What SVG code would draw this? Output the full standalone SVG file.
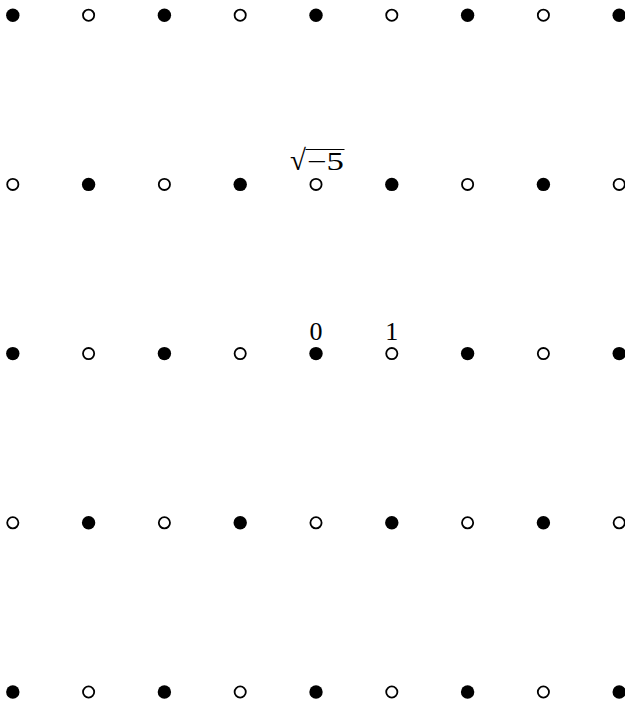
<svg xmlns="http://www.w3.org/2000/svg" width="625" height="704" viewBox="0 0 625 704">
<style>
.f{fill:#000}
.o{fill:#fff;stroke:#000;stroke-width:1.8}
text{font-family:"Liberation Serif","Times New Roman",serif;fill:#000}
.d{font-size:26px}
</style>
<defs>
<circle id="F" r="6.7" class="f"/>
<circle id="O" r="5.6" class="o"/>
</defs>
<rect width="625" height="704" fill="#fff"/>
<g id="nodes">
<g id="r0">
<use href="#F" x="12.8" y="15.2"/><use href="#O" x="88.6" y="15.2"/><use href="#F" x="164.4" y="15.2"/><use href="#O" x="240.2" y="15.2"/><use href="#F" x="316" y="15.2"/><use href="#O" x="391.8" y="15.2"/><use href="#F" x="467.6" y="15.2"/><use href="#O" x="543.4" y="15.2"/><use href="#F" x="619.2" y="15.2"/>
</g>
<g id="r1">
<use href="#O" x="12.8" y="184.4"/><use href="#F" x="88.6" y="184.4"/><use href="#O" x="164.4" y="184.4"/><use href="#F" x="240.2" y="184.4"/><use href="#O" x="316" y="184.4"/><use href="#F" x="391.8" y="184.4"/><use href="#O" x="467.6" y="184.4"/><use href="#F" x="543.4" y="184.4"/><use href="#O" x="619.2" y="184.4"/>
</g>
<g id="r2">
<use href="#F" x="12.8" y="353.6"/><use href="#O" x="88.6" y="353.6"/><use href="#F" x="164.4" y="353.6"/><use href="#O" x="240.2" y="353.6"/><use href="#F" x="316" y="353.6"/><use href="#O" x="391.8" y="353.6"/><use href="#F" x="467.6" y="353.6"/><use href="#O" x="543.4" y="353.6"/><use href="#F" x="619.2" y="353.6"/>
</g>
<g id="r3">
<use href="#O" x="12.8" y="522.8"/><use href="#F" x="88.6" y="522.8"/><use href="#O" x="164.4" y="522.8"/><use href="#F" x="240.2" y="522.8"/><use href="#O" x="316" y="522.8"/><use href="#F" x="391.8" y="522.8"/><use href="#O" x="467.6" y="522.8"/><use href="#F" x="543.4" y="522.8"/><use href="#O" x="619.2" y="522.8"/>
</g>
<g id="r4">
<use href="#F" x="12.8" y="692"/><use href="#O" x="88.6" y="692"/><use href="#F" x="164.4" y="692"/><use href="#O" x="240.2" y="692"/><use href="#F" x="316" y="692"/><use href="#O" x="391.8" y="692"/><use href="#F" x="467.6" y="692"/><use href="#O" x="543.4" y="692"/><use href="#F" x="619.2" y="692"/>
</g>
</g>
<g id="labels">
<text x="290" y="170" style="font-size:29px">√</text>
<line x1="305.5" y1="149.5" x2="344.5" y2="149.5" stroke="#000" stroke-width="1.2"/>
<text x="307" y="170" style="font-size:25px" textLength="37" lengthAdjust="spacingAndGlyphs">−5</text>
<text class="d" x="316" y="340" text-anchor="middle">0</text>
<text class="d" x="391.8" y="340" text-anchor="middle">1</text>
</g>
<g id="connectors"></g>
</svg>
